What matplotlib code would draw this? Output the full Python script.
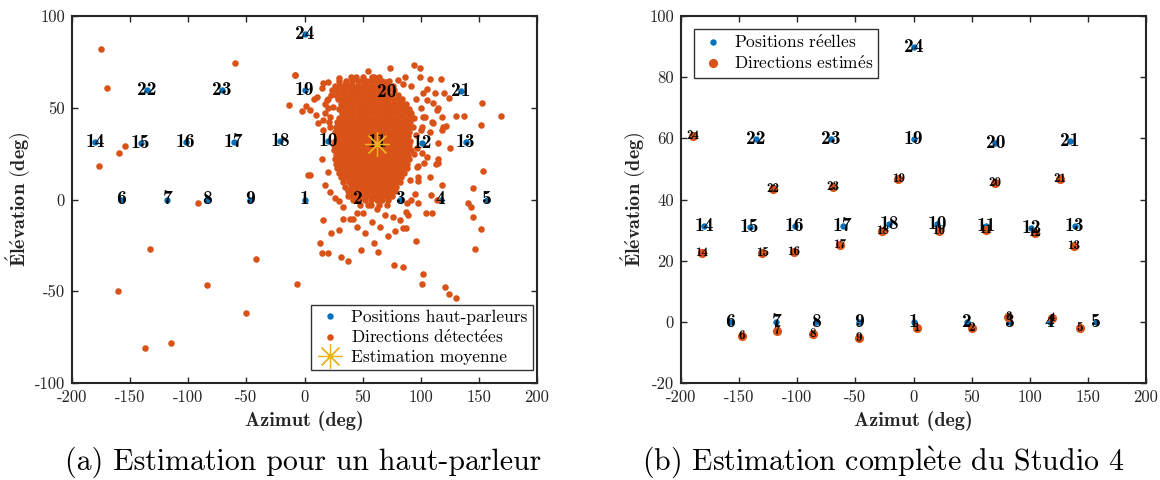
import numpy as np
import matplotlib
matplotlib.use("Agg")
import matplotlib.pyplot as plt
from matplotlib.lines import Line2D

plt.rcParams['font.family'] = ['cmr10', 'DejaVu Serif']
plt.rcParams['mathtext.fontset'] = 'cm'
plt.rcParams['axes.unicode_minus'] = False

BLUE = '#0072BD'
ORANGE = '#D95319'
YELLOW = '#EDB120'
AX_COLOR = '#262626'

# ---- loudspeaker layout (azimuth / elevation, degrees) ----
speaker_ids = list(range(1, 25))
spk_az = [0, 46, 82, 117, 157, -158, -118, -84, -47, 20.5, 62.4, 101, 138.5,
          -180, -141, -102, -61, -20.8, 0, 70.5, 134.3, -135.5, -71, 0]
spk_el = [0, 0, 0, 0, 0, 0, 0, 0, 0, 32, 31.4, 30.8, 31.2,
          31.3, 31, 31.3, 31.3, 31.9, 59.7, 58.5, 59, 59.7, 59.7, 90]

# ---- estimated direction of every loudspeaker (Studio 4) ----
est_az = [2.7, 50, 81.6, 119, 143, -147.8, -117.7, -86.2, -47, 22, 62.4, 104.5,
          138, -182, -130, -102.8, -63.2, -26.8, -13, 70, 126, -120.6, -69.5, -190]
est_el = [-2.1, -2.1, 1.5, 1.3, -1.9, -4.5, -2.9, -4.0, -5.4, 29.7, 30, 29.1,
          24.8, 22.4, 22.6, 22.8, 25.1, 29.7, 46.6, 45.5, 46.6, 43.3, 44.2, 60.8]

# ---- detected directions for loudspeaker 11 ----
# dense core, one row of azimuths per elevation
core_rows = {
    67.0: [44, 50, 58, 64],
    64.5: [30, 36, 41, 46, 50, 54, 58, 62, 67, 73],
    62.0: [26, 30, 34, 38, 42, 46, 50, 54, 58, 62, 66, 70, 76],
    59.5: [24, 28, 32, 36, 40, 44, 48, 52, 56, 60, 64, 68, 72, 77],
    57.0: [27, 31, 35, 39, 43, 47, 51, 55, 59, 63, 67, 71, 75, 80],
    54.5: [29, 32, 36, 40, 44, 48, 52, 56, 60, 64, 68, 72, 76, 80, 84],
    52.0: [31, 33, 37, 41, 45, 49, 53, 57, 61, 65, 69, 73, 77, 81, 85, 87],
    49.5: [30, 34, 38, 42, 46, 50, 54, 58, 62, 66, 70, 74, 78, 82, 86, 90],
    47.0: [32, 33, 37, 41, 45, 49, 53, 57, 61, 65, 69, 73, 77, 81, 85, 89, 92],
    44.5: [30, 34, 38, 42, 46, 50, 54, 58, 62, 66, 70, 74, 78, 82, 86, 90, 94],
    42.0: [28, 32, 36, 40, 44, 48, 52, 56, 60, 64, 68, 72, 76, 80, 84, 88, 91],
    39.5: [27, 30, 34, 38, 42, 46, 50, 54, 58, 62, 66, 70, 74, 78, 82, 86, 90, 93],
    37.0: [26, 28, 32, 36, 40, 44, 48, 52, 56, 60, 64, 68, 72, 76, 80, 84, 88, 90],
    34.5: [28, 30, 34, 38, 42, 46, 50, 54, 58, 62, 66, 70, 74, 78, 82, 86, 89],
    32.0: [26, 28, 32, 36, 40, 44, 48, 52, 56, 60, 64, 68, 72, 76, 80, 84, 88, 91],
    29.5: [25, 30, 34, 38, 42, 46, 50, 54, 58, 62, 66, 70, 74, 78, 82, 86, 90],
    27.0: [25, 28, 32, 36, 40, 44, 48, 52, 56, 60, 64, 68, 72, 76, 80, 84, 88, 92],
    24.5: [27, 30, 34, 38, 42, 46, 50, 54, 58, 62, 66, 70, 74, 78, 82, 86, 89],
    22.0: [26, 28, 32, 36, 40, 44, 48, 52, 56, 60, 64, 68, 72, 76, 80, 84, 88, 90],
    19.5: [27, 30, 34, 38, 42, 46, 50, 54, 58, 62, 66, 70, 74, 78, 82, 86, 88],
    17.0: [28, 32, 36, 40, 44, 48, 52, 56, 60, 64, 68, 72, 76, 80, 84, 88],
    14.5: [30, 34, 38, 42, 46, 50, 54, 58, 62, 66, 70, 74, 78, 82, 86],
    12.0: [31, 36, 40, 44, 48, 52, 56, 60, 64, 68, 72, 76, 80, 83],
    9.5: [33, 38, 42, 46, 50, 54, 58, 62, 66, 70, 74, 78, 82],
    7.0: [35, 40, 44, 48, 52, 56, 60, 64, 68, 72, 76, 79],
    4.5: [37, 42, 46, 50, 54, 58, 62, 66, 70, 74, 78],
    2.0: [40, 44, 48, 52, 56, 60, 64, 68, 72, 75],
    -0.5: [42, 47, 52, 57, 62, 67, 72],
    -3.0: [48, 57, 64],
}

# scattered detections around and away from the core
scatter_az = [-175, -170, -59.8, -8.4, -13, -1.9, 1.3, -159.3, -154, -176.5, 3.3,
              -91.3, -132.9, -160.2, -84.1, -42, -6.2, -50.3, -137.5, -114.6,
              15.6, 22.5, 29.4, 13.3, 15, 20.2, 31.4, 37.2, 26.5, 33.4, 33.4, 39,
              42, 45, 45.4, 48.3, 50.6, 60, 63.5, 69.2, 70.7, 76.4, 77, 82, 85,
              87, 85, 86.9, 89, 95.9, 101.6, 101, 104.5, 110, 108.5, 113.7, 120.9,
              124.6, 130.3, 118, 141, 143, 145, 144.7, 151.8, 147,
              73.5, 94.2, 99.4, 86.5, 99.4, 108, 117.4, 124.6, 130.3, 137.2,
              152.4, 169, 151.5, 125.2, 115, 112.8, 153.3, 4.7, -8.2, 14.8,
              8, 12, 16, 22, 26, 18, 20, 10, 15, 20, 18, 22, 20, 18, 23, 21,
              96, 100, 104, 110, 115, 118, 100, 97, 103, 108, 98, 95, 120, 112,
              105, 92, 85, 80, 115, 122, 96, 98, 94,
              20, 30, 40, 50, 60, 70, 55, 45, 35,
              30, 37, 55, 62, 58, 52, 65, 72, 78, 88, 92, 98,
              102, 105, 110.8, 113.7, 118, 119.4, 110.8, 108, 102.2, 100.8,
              105, 100.8, 96.5, 97.9, 90.8, 115,
              16.2, 10.5, 4.7, 19, 24.8, 22, 16.2]
scatter_el = [81.8, 60.8, 74.2, 67.8, 51.5, 48.4, 51, 25.2, 29.2, 18.4, 13.4,
              -1.7, -26.8, -49.7, -46.8, -32.6, -46, -61.7, -80.8, -78,
              -11.2, -18.1, -16.6, -23.9, -29, -29.3, -31.5, -33.7, 0.6, -3.9,
              -10.8, -10.8, -10.8, -7.2, -14.8, -27.5, -7.5, -23.5, -28.4, -8.4,
              -3, -9.4, -35.9, -11, -15.5, -15.5, -36.6, -7, -8.4, -22.6, -40.6,
              -46.2, -7.5, -7.5, 2.5, -0.3, -47.5, -51.5, -53.9, 7.9, -2.1, -4,
              -9.5, 6.1, -16.3, -26.8,
              71.5, 73.3, 71.5, 67, 67, 65.7, 65.6, 55.1, 45.7, 45.7, 52.8,
              45.7, 40.6, 27.9, 30.6, 19.2, 15.7, 13.4, 67.8, 60.6,
              55, 41.5, 38, 39.7, 27.9, 47, 55, 46, 22, 15, 8, 4, 50, 52, 57, 42,
              55, 50, 45, 42, 50, 38, 38, 28, 20, 12, 10, 3, 58, 58,
              60, 62, 63, 65, 22, 40, 35, 18, 25,
              64, 66, 67, 65, 67, 64, 70, 62, 63,
              -1, 2, -3, -5, -12, -18, -15, -20, -17, -2, 0, -2,
              57.9, 54.2, 52.4, 48.8, 45.1, 39.7, 41.5, 36.9, 45.1, 39.7,
              23.3, 25.2, 17.9, 12.4, 10.6, 19.7,
              63.3, 56, 48.8, 54.2, 50.6, 45.1, 43.3]

# mean of the detections
mean_az = 62.6
mean_el = 30.2

det_az = list(scatter_az)
det_el = list(scatter_el)
for el, row in core_rows.items():
    det_az += row
    det_el += [el] * len(row)

fig = plt.figure(figsize=(11.6, 4.8), dpi=100)
ax1 = fig.add_axes([72 / 1160, 97 / 480, 465 / 1160, 367 / 480])
ax2 = fig.add_axes([681 / 1160, 97 / 480, 465 / 1160, 367 / 480])

star = (8, 2, 0)
BOLD = ['cmb10', 'DejaVu Serif']


def style_axes(ax, yticks):
    ax.set_xlim(-200, 200)
    ax.set_xticks(range(-200, 201, 50))
    ax.set_xticklabels([str(v) for v in range(-200, 201, 50)])
    ax.set_yticks(yticks)
    ax.set_yticklabels([str(v) for v in yticks])
    ax.tick_params(direction='in', length=4.5, width=1.0, colors=AX_COLOR,
                   labelsize=12, top=True, right=True, pad=5,
                   labelcolor='#262626')
    for sp in ax.spines.values():
        sp.set_linewidth(1.5)
        sp.set_color(AX_COLOR)
    ax.set_xlabel('Azimut (deg)', fontsize=14.5, family=BOLD, labelpad=4,
                  color='#262626')
    ax.set_ylabel(r'$\mathbf{\acute{E}l\acute{e}vation\ (deg)}$', fontsize=14.5,
                  labelpad=2, color='#262626')


def make_legend(ax, handles, labels, **kw):
    leg = ax.legend(handles, labels, fontsize=12.5, frameon=True, fancybox=False,
                    edgecolor='black', handlelength=1.6, handletextpad=0.4,
                    borderpad=0.3, labelspacing=0.2, borderaxespad=0.2, **kw)
    leg.get_frame().set_linewidth(1.0)
    return leg


# ---------------- (a) ----------------
ax1.set_ylim(-100, 100)
style_axes(ax1, list(range(-100, 101, 50)))
ax1.plot(spk_az, spk_el, 'o', color=BLUE, ms=4.6, mec='none', zorder=2)
ax1.plot(det_az, det_el, 'o', color=ORANGE, ms=4.7, mec='none', zorder=3)
for i, a, e in zip(speaker_ids, spk_az, spk_el):
    ax1.text(a, e, str(i), ha='center', va='center', fontsize=14,
             family=BOLD, color='black', zorder=4)
ax1.plot([mean_az], [mean_el], marker=star, color=YELLOW, ms=18, mew=0.9,
         ls='none', zorder=5)
h1 = [Line2D([], [], marker='o', color=BLUE, ms=4.6, mec='none', ls='none'),
      Line2D([], [], marker='o', color=ORANGE, ms=4.7, mec='none', ls='none'),
      Line2D([], [], marker=star, color=YELLOW, ms=18, mew=0.9, ls='none')]
make_legend(ax1, h1, ['Positions haut-parleurs',
                      r'Directions d$\acute{\rm e}$tect$\acute{\rm e}$es',
                      'Estimation moyenne'],
            loc='lower right', bbox_to_anchor=(0.998, 0.025))

# ---------------- (b) ----------------
ax2.set_ylim(-20, 100)
style_axes(ax2, list(range(-20, 101, 20)))
ax2.plot(spk_az, spk_el, 'o', color=BLUE, ms=4.6, mec='none', zorder=2)
ax2.plot(est_az, est_el, 'o', color=ORANGE, ms=6.6, mec='none', zorder=3)
for i, a, e in zip(speaker_ids, spk_az, spk_el):
    ax2.text(a, e, str(i), ha='center', va='center', fontsize=14,
             family=BOLD, color='black', zorder=4)
for i, a, e in zip(speaker_ids, est_az, est_el):
    ax2.text(a, e, str(i), ha='center', va='center', fontsize=9.5,
             family=BOLD, color='black', zorder=4)
h2 = [Line2D([], [], marker='o', color=BLUE, ms=4.6, mec='none', ls='none'),
      Line2D([], [], marker='o', color=ORANGE, ms=6.6, mec='none', ls='none')]
make_legend(ax2, h2, [r'Positions r$\acute{\rm e}$elles',
                      r'Directions estim$\acute{\rm e}$s'],
            loc='upper left', bbox_to_anchor=(0.02, 0.975))

fig.text(303 / 1160, 1 - 462 / 480, '(a) Estimation pour un haut-parleur',
         ha='center', va='center', fontsize=21.5)
fig.text(883.5 / 1160, 1 - 462 / 480,
         r'(b) Estimation compl$\grave{\rm e}$te du Studio 4',
         ha='center', va='center', fontsize=21.5)

fig.savefig('out.png', dpi=100)
